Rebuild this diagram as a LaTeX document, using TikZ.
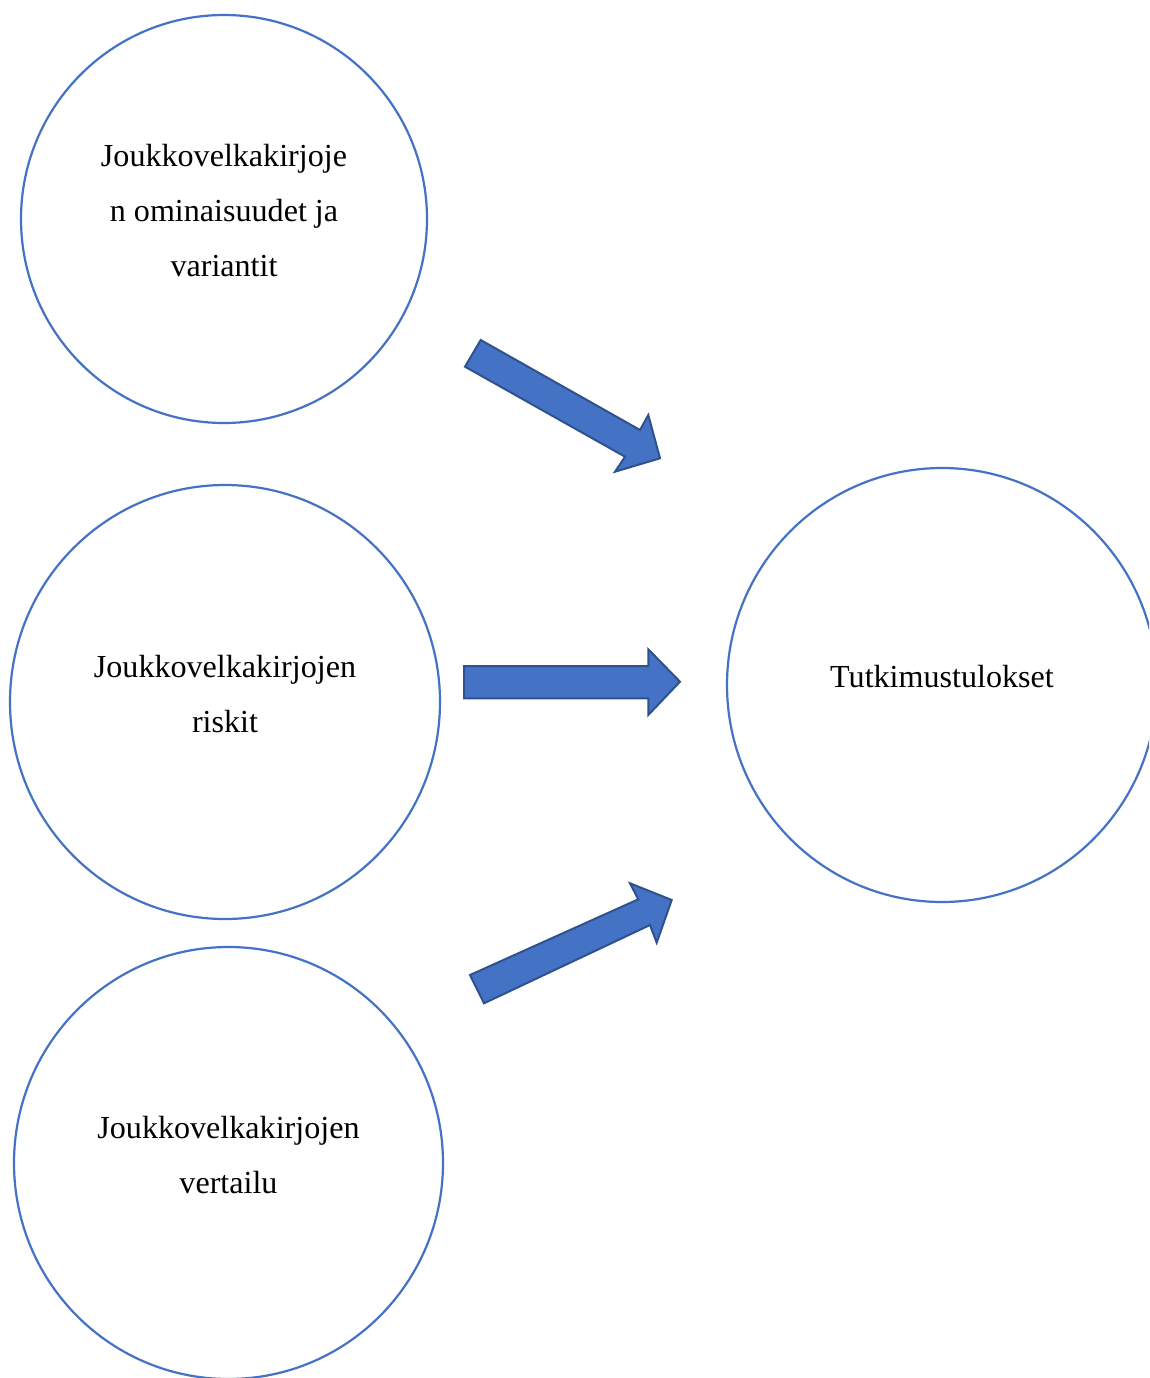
\documentclass[tikz,border=0pt]{standalone}
\usepackage{fontspec}
\setmainfont{Liberation Serif}
\usetikzlibrary{shapes.geometric}
\definecolor{cblue}{HTML}{4472C4}
\definecolor{cdark}{HTML}{2F528F}
\begin{document}
\begin{tikzpicture}[x=1pt,y=-1pt,
  bubble/.style={draw=cblue,line width=2.2pt,ellipse,inner sep=0pt},
  bubbletext/.style={align=center,inner sep=0pt,font=\fontsize{32.1}{55}\selectfont},
  blockarrow/.style={fill=cblue,draw=cdark,line width=2pt,line join=miter}]
\clip (0,0) rectangle (1149,1378);
\useasboundingbox (0,0) rectangle (1149,1378);
\fill[white] (0,0) rectangle (1149,1378);
\node[bubble,minimum width=406pt,minimum height=408pt] (c1) at (224,219) {};
\node[bubbletext] (t1) at ([yshift=8pt]c1.center) {Joukkovelkakirjoje\\n ominaisuudet ja\\variantit};
\node[bubble,minimum width=430pt,minimum height=434pt] (c2) at (225,702) {};
\node[bubbletext] (t2) at ([yshift=7.5pt]c2.center) {Joukkovelkakirjojen\\riskit};
\node[bubble,minimum width=429pt,minimum height=432pt] (c3) at (228.5,1163) {};
\node[bubbletext] (t3) at ([yshift=7.5pt]c3.center) {Joukkovelkakirjojen\\vertailu};
\node[bubble,minimum width=430pt,minimum height=434pt] (c4) at (942,685) {};
\node[bubbletext] (t4) at ([yshift=8pt]c4.center) {Tutkimustulokset};
% block arrows
\coordinate (a1) at (480.7,340);
\draw[blockarrow] (a1) -- (640,430) -- (648.3,415) -- (660,458.3) -- (615,471.7) -- (625,456.7) -- (465,366.7) -- cycle;
\coordinate (a2) at (464,666);
\draw[blockarrow] (a2) -- (648.3,666) -- (648.3,649.3) -- (680,681.7) -- (648.3,715) -- (648.3,698.3) -- (464,698.3) -- cycle;
\coordinate (a3) at (470,975);
\draw[blockarrow] (a3) -- (638.3,899.3) -- (630,883.3) -- (671.7,900) -- (656.7,942.7) -- (650,925) -- (484,1003.3) -- cycle;
\end{tikzpicture}
\end{document}
